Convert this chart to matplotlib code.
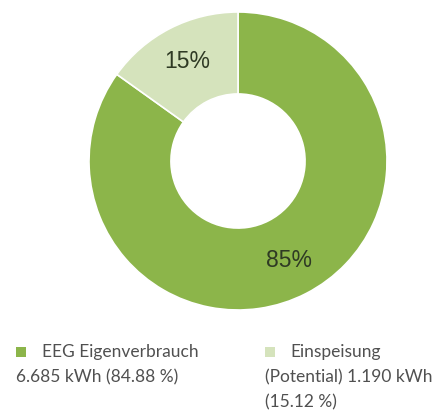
import matplotlib
matplotlib.use("Agg")
import matplotlib.pyplot as plt
from matplotlib.patches import Rectangle
import numpy as np

categories = ["EEG Eigenverbrauch", "Einspeisung (Potential)"]
values_kwh = [6685, 1190]
shares = [84.88, 15.12]
pct_labels = ["85%", "15%"]
legend_lines = [
    ["EEG Eigenverbrauch", "6.685 kWh (84.88 %)"],
    ["Einspeisung", "(Potential) 1.190 kWh", "(15.12 %)"],
]
colors = ["#8cb54a", "#d5e3bc"]

W, H = 436, 412
fig = plt.figure(figsize=(W / 100, H / 100), dpi=100)
fig.patch.set_facecolor("white")

cx, cy, r = 238, 161, 149
ax = fig.add_axes([(cx - r) / W, (H - cy - r) / H, 2 * r / W, 2 * r / H])
wedges, _ = ax.pie(shares, colors=colors, startangle=90, counterclock=False,
                   radius=1.0, wedgeprops=dict(width=0.55, edgecolor="white", linewidth=1.2))
theta0 = 90.0
for val, lab in zip(shares, pct_labels):
    mid = theta0 - val * 3.6 / 2
    theta0 -= val * 3.6
    d = 0.75
    ax.text(d * np.cos(np.radians(mid)), d * np.sin(np.radians(mid)), lab,
            ha="center", va="center", fontsize=16.5, color="#2f3a24",
            family="Liberation Sans")
ax.set_xlim(-1, 1)
ax.set_ylim(-1, 1)
ax.set_aspect("equal")
ax.axis("off")

txt_color = "#505050"
fs = 12.5
sq = 10
# legend 1
fig.patches.append(Rectangle((16 / W, (H - 357) / H), sq / W, sq / H, transform=fig.transFigure,
                             facecolor=colors[0], edgecolor="none"))
fig.text(42 / W, (H - 352) / H, legend_lines[0][0], ha="left", va="center", fontsize=fs,
         color=txt_color, family="Lato")
fig.text(16 / W, (H - 377) / H, legend_lines[0][1], ha="left", va="center", fontsize=fs,
         color=txt_color, family="Lato")
# legend 2
fig.patches.append(Rectangle((265 / W, (H - 357) / H), sq / W, sq / H, transform=fig.transFigure,
                             facecolor=colors[1], edgecolor="none"))
fig.text(290 / W, (H - 352) / H, legend_lines[1][0], ha="left", va="center", fontsize=fs,
         color=txt_color, family="Lato")
fig.text(265 / W, (H - 377) / H, legend_lines[1][1], ha="left", va="center", fontsize=fs,
         color=txt_color, family="Lato")
fig.text(265 / W, (H - 402) / H, legend_lines[1][2], ha="left", va="center", fontsize=fs,
         color=txt_color, family="Lato")

fig.savefig("out.png", dpi=100, facecolor="white")
